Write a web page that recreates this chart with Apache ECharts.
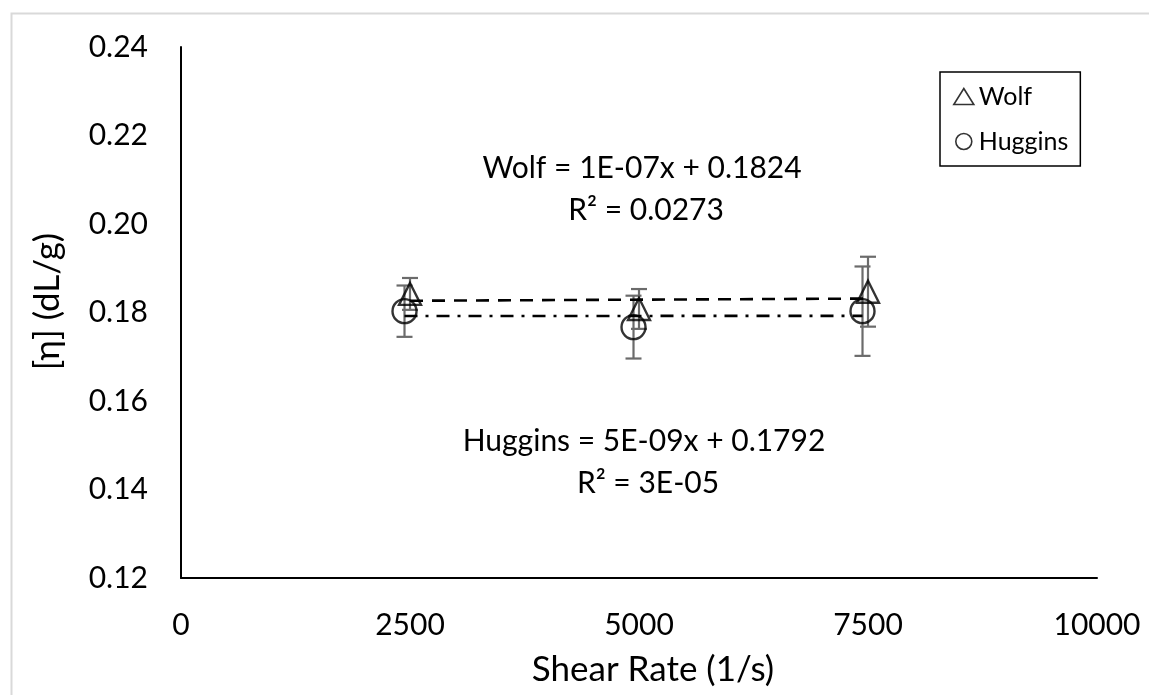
<!DOCTYPE html>
<html>
<head>
<meta charset="utf-8">
<script src="https://cdn.jsdelivr.net/npm/echarts@6/dist/echarts.min.js"></script>
<style>
  html, body { margin: 0; padding: 0; background: #fff; }
  #chart { width: 1149px; height: 695px; }
</style>
</head>
<body>
<div id="chart"></div>
<script>
// Intrinsic viscosity vs. shear rate, Wolf and Huggins methods
const wolfX = [2500, 5000, 7500];
const wolfY = [0.1842, 0.1808, 0.1847];
const wolfErr = [0.0036, 0.0045, 0.0079];

const hugginsX = [2440, 4940, 7440];
const hugginsY = [0.1803, 0.1767, 0.1803];
const hugginsErr = [0.0058, 0.0071, 0.0101];

// Linear fits (slope, intercept) as reported
const wolfFit = { slope: 1e-7, intercept: 0.1824 };
const hugginsFit = { slope: 5e-9, intercept: 0.1792 };

const wolfEqText = 'Wolf = 1E-07x + 0.1824';
const wolfR2Text = 'R² = 0.0273';
const hugEqText = 'Huggins = 5E-09x + 0.1792';
const hugR2Text = 'R² = 3E-05';

const xTicks = [0, 2500, 5000, 7500, 10000];
const yTicks = [0.12, 0.14, 0.16, 0.18, 0.20, 0.22, 0.24];

const FONT = 'Lato, "Open Sans", sans-serif';

function fitLine(xs, fit) {
  const x0 = Math.min(...xs), x1 = Math.max(...xs);
  return [[x0, fit.slope * x0 + fit.intercept], [x1, fit.slope * x1 + fit.intercept]];
}

function errData(xs, ys, es) {
  return xs.map((x, i) => [x, ys[i] - es[i], ys[i] + es[i]]);
}

function errRender(params, api) {
  const x = api.value(0);
  const lo = api.coord([x, api.value(1)]);
  const hi = api.coord([x, api.value(2)]);
  const cap = 8;
  const style = { stroke: '#6b6b6b', lineWidth: 2.2, fill: null };
  return {
    type: 'group',
    children: [
      { type: 'line', shape: { x1: lo[0], y1: lo[1], x2: hi[0], y2: hi[1] }, style },
      { type: 'line', shape: { x1: lo[0] - cap, y1: lo[1], x2: lo[0] + cap, y2: lo[1] }, style },
      { type: 'line', shape: { x1: hi[0] - cap, y1: hi[1], x2: hi[0] + cap, y2: hi[1] }, style }
    ]
  };
}

function eqText(text, x, y) {
  return { type: 'text', x, y, z: 10,
    style: { text, font: '30px ' + FONT, fill: '#000', textAlign: 'center', textVerticalAlign: 'middle' } };
}

const chart = echarts.init(document.getElementById('chart'), null, { renderer: 'canvas' });

chart.setOption({
  backgroundColor: '#fff',
  animation: false,
  textStyle: { fontFamily: FONT, color: '#000' },
  grid: { left: 181, top: 47, right: 52, bottom: 117, containLabel: false },
  xAxis: {
    type: 'value',
    min: xTicks[0], max: xTicks[xTicks.length - 1], interval: 2500,
    name: 'Shear Rate (1/s)', nameLocation: 'middle', nameGap: 74,
    nameTextStyle: { fontSize: 35, color: '#000', fontFamily: FONT, padding: [0, 0, 0, 28] },
    axisLine: { show: true, lineStyle: { color: '#000', width: 2 } },
    axisTick: { show: false },
    splitLine: { show: false },
    axisLabel: { fontSize: 30, color: '#000', margin: 32, fontFamily: FONT,
      formatter: v => String(v) }
  },
  yAxis: {
    type: 'value',
    min: yTicks[0], max: yTicks[yTicks.length - 1], interval: 0.02,
    name: '[η] (dL/g)', nameLocation: 'middle', nameGap: 116,
    nameTextStyle: { fontSize: 35, color: '#000', fontFamily: FONT, padding: [0, 0, 0, 22] },
    axisLine: { show: true, lineStyle: { color: '#000', width: 2 } },
    axisTick: { show: false },
    splitLine: { show: false },
    axisLabel: { fontSize: 30, color: '#000', margin: 33, fontFamily: FONT,
      formatter: v => v.toFixed(2) }
  },
  legend: {
    orient: 'vertical',
    left: 940, top: 72,
    padding: [12, 12, 12, 13],
    itemGap: 20,
    itemWidth: 20, itemHeight: 16,
    borderColor: '#000', borderWidth: 1.5,
    backgroundColor: '#fff',
    textStyle: { fontSize: 25, color: '#000', fontFamily: FONT },
    data: [
      { name: 'Wolf', icon: 'triangle', itemStyle: { color: 'transparent', borderColor: '#000', borderWidth: 1.6 } },
      { name: 'Huggins', icon: 'circle', itemStyle: { color: 'transparent', borderColor: '#000', borderWidth: 1.6 } }
    ]
  },
  graphic: [
    { type: 'rect', left: 9, top: 11, z: -1, silent: true,
      shape: { width: 1150, height: 700 }, style: { fill: 'none', stroke: '#d9d9d9', lineWidth: 2 } },
    eqText(wolfEqText, 642, 168),
    eqText(wolfR2Text, 646, 210),
    eqText(hugEqText, 644, 441),
    eqText(hugR2Text, 648, 483)
  ],
  series: [
    {
      name: 'Wolf fit', type: 'line', data: fitLine(wolfX, wolfFit),
      symbol: 'none', z: 3,
      lineStyle: { color: '#000', width: 2.6, type: [13, 9] }
    },
    {
      name: 'Huggins fit', type: 'line', data: fitLine(hugginsX, hugginsFit),
      symbol: 'none', z: 3,
      lineStyle: { color: '#000', width: 2.6, type: [13, 8, 3, 8] }
    },
    {
      name: 'Wolf err', type: 'custom', renderItem: errRender, z: 2,
      data: errData(wolfX, wolfY, wolfErr), encode: { x: 0, y: [1, 2] }
    },
    {
      name: 'Huggins err', type: 'custom', renderItem: errRender, z: 2,
      data: errData(hugginsX, hugginsY, hugginsErr), encode: { x: 0, y: [1, 2] }
    },
    {
      name: 'Wolf', type: 'scatter', symbol: 'triangle', symbolSize: [22, 22], z: 4,
      data: wolfX.map((x, i) => [x, wolfY[i]]),
      itemStyle: { color: 'transparent', borderColor: '#000', borderWidth: 2.4 }
    },
    {
      name: 'Huggins', type: 'scatter', symbol: 'circle', symbolSize: 24, z: 4,
      data: hugginsX.map((x, i) => [x, hugginsY[i]]),
      itemStyle: { color: 'transparent', borderColor: '#000', borderWidth: 2.4 }
    }
  ]
});
</script>
</body>
</html>
